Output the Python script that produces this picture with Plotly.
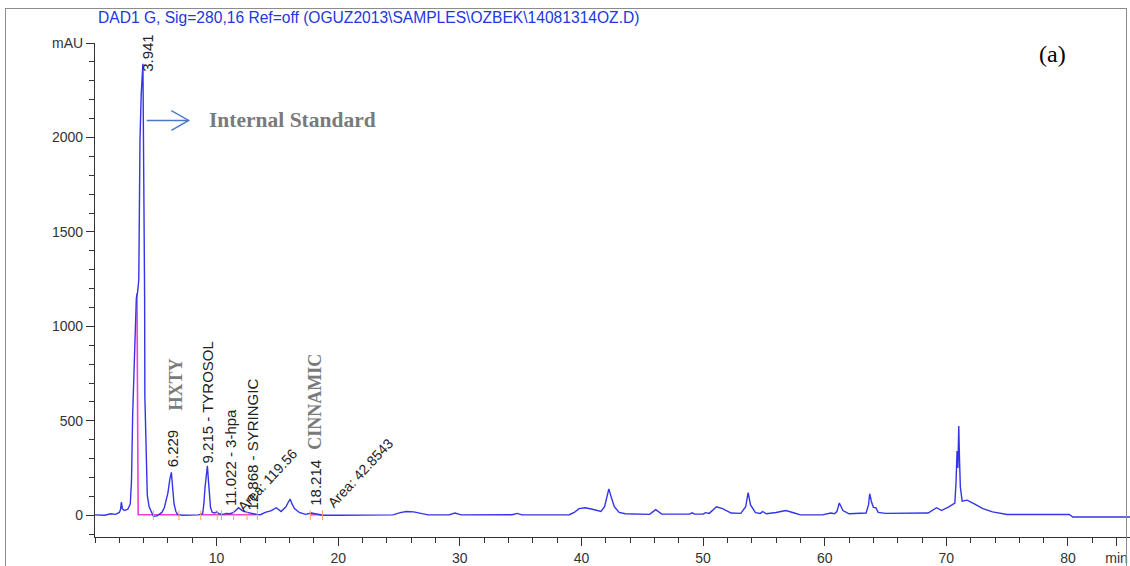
import plotly.graph_objects as go

# Chromatogram signal, DAD1 G 280 nm: retention time (min) and absorbance (mAU)
time_min = [
    0.0, 0.8, 1.3, 1.7, 2.0, 2.1, 2.17, 2.25, 2.4, 2.7, 2.9, 3.0, 3.1, 3.2, 3.3, 3.4,
    3.5, 3.6, 3.7, 3.8, 3.94, 4.0, 4.08, 4.1, 4.2, 4.3, 4.45, 4.6, 4.8, 5.1, 5.3,
    5.5, 5.7, 5.85, 6.0, 6.15, 6.28, 6.38, 6.5, 6.65, 6.8, 7.2, 7.8, 8.5, 8.85,
    8.95, 9.05, 9.15, 9.24, 9.32, 9.4, 9.5, 9.65, 9.85, 10.0, 10.2, 10.5, 10.8,
    11.1, 11.4, 11.8, 12.1, 12.5, 12.9, 13.3, 13.6, 14.0, 14.5, 14.9, 15.3, 15.7,
    15.9, 16.05, 16.2, 16.4, 16.8, 17.3, 17.8, 18.2, 18.7, 20.0, 24.5, 25.1, 25.6,
    26.2, 26.8, 27.4, 29.1, 29.6, 30.1, 34.3, 34.7, 35.1, 39.0, 39.4, 39.8, 40.3,
    40.9, 41.6, 41.9, 42.1, 42.25, 42.45, 42.7, 43.1, 43.6, 45.6, 46.1, 46.6,
    48.9, 49.1, 49.3, 50.0, 50.2, 50.5, 51.1, 51.6, 52.3, 53.1, 53.5, 53.7, 53.9,
    54.3, 54.7, 54.9, 55.2, 56.0, 56.8, 57.5, 58.0, 59.8, 60.5, 60.8, 61.0, 61.2,
    61.5, 62.0, 62.8, 63.4, 63.6, 63.7, 63.85, 64.0, 64.2, 64.4, 65.0, 68.5, 69.2,
    69.6, 70.2, 70.5, 70.7, 70.8, 70.88, 70.95, 71.02, 71.08, 71.15, 71.3, 71.7,
    72.3, 73.0, 73.8, 74.6, 75.0, 80.1, 80.4, 85.1,
]
absorbance_mau = [
    2, 0, 8, 5, 15, 30, 70, 35, 25, 32, 60, 180, 540, 720, 980, 1150,
    1180, 1245, 1990, 2230, 2390, 2000, 1150, 630, 300, 105, 45, 25, -5, -3, 5,
    15, 40, 75, 120, 190, 227, 150, 60, 20, 3, 0, 0, 2, 8,
    60, 150, 235, 262, 190, 110, 40, 15, 12, 18, 8, 5, 10,
    8, 15, 40, 25, 15, 8, 5, 3, 15, 25, 40, 20, 45,
    70, 85, 60, 35, 15, 5, 12, 8, 0, 0, 2, 14, 20,
    18, 10, 2, 2, 12, 2, 3, 10, 2, 3, 15, 35, 40,
    32, 20, 45, 110, 140, 95, 45, 15, 8, 5, 30, 6,
    6, 13, 6, 6, 14, 10, 45, 35, 12, 10, 45, 120, 55,
    14, 10, 20, 8, 15, 25, 12, 2, 2, 12, 8, 20, 65,
    25, 8, 10, 12, 55, 114, 70, 42, 40, 15, 10, 12, 40,
    25, 45, 60, 65, 180, 340, 250, 472, 300, 150, 75, 80,
    60, 35, 18, 10, 4, 4, -9, -9,
]

# Integration baselines drawn by the data system
baseline_segments = [
    ([3.45, 3.55, 6.9], [1175, 3, 3]),
    ([8.7, 13.3], [3, 3]),
    ([17.7, 18.7], [3, 3]),
]
# Peak start / end markers on the baseline
marker_times = [4.8, 6.9, 8.7, 10.05, 10.4, 11.4, 12.5, 13.35, 17.7, 18.7]
marker_levels = [0, 0, 0, 0, 0, 0, 0, 0, 0, 0]

# Peak labels (retention time, label text, apex height)
peak_times = [3.941, 6.229, 9.215, 11.022, 12.868, 18.214]
peak_texts = ["3.941", "6.229", "9.215 - TYROSOL", "11.022 - 3-hpa",
              "12.868 - SYRINGIC", "18.214"]
peak_label_x = [4.25, 6.38, 9.26, 11.2, 12.93, 18.13]
peak_label_base = [2335, 241, 262, 37, 16, 37]

# Compound names added beside the peaks
compound_names = ["HXTY", "CINNAMIC"]
compound_x = [6.63, 18.13]
compound_y = [690, 598]

# Area annotations
area_texts = ["Area: 119.56", "Area: 42.8543"]
area_x = [14.2, 21.8]
area_y = [185, 226]

x_ticks = [10, 20, 30, 40, 50, 60, 70, 80, 84]
x_tick_text = ["10", "20", "30", "40", "50", "60", "70", "80", "min"]
y_ticks = [0, 500, 1000, 1500, 2000, 2500]
y_tick_text = ["0", "500", "1000", "1500", "2000", "mAU"]

SANS = "Liberation Sans, Arial, sans-serif"
SERIF = "Liberation Serif, Times New Roman, serif"
TRACE_BLUE = "#3434e8"
PINK = "#f03cd8"

fig = go.Figure()

for seg_t, seg_y in baseline_segments:
    fig.add_trace(go.Scatter(x=seg_t, y=seg_y, mode="lines",
                             line=dict(color=PINK, width=1.6),
                             hoverinfo="skip", showlegend=False))

fig.add_trace(go.Scatter(x=time_min, y=absorbance_mau, mode="lines",
                         line=dict(color=TRACE_BLUE, width=1.4),
                         showlegend=False))

fig.add_trace(go.Scatter(x=marker_times, y=marker_levels, mode="markers",
                         marker=dict(symbol="line-ns-open", size=7,
                                     line=dict(color="#333333", width=1)),
                         hoverinfo="skip", showlegend=False))

annotations = []

# outer frame of the report page (an empty bordered box)
annotations.append(dict(x=-0.087, y=1.07, xref="paper", yref="paper",
                        text=" ", showarrow=False, xanchor="left",
                        yanchor="top", width=1120, height=620,
                        borderpad=0, bordercolor="#8c8c8c", borderwidth=1))

for t, txt, yb in zip(peak_label_x, peak_texts, peak_label_base):
    annotations.append(dict(x=t, y=yb, xref="x", yref="y", text=txt,
                            textangle=-90, showarrow=False,
                            xanchor="center", yanchor="bottom",
                            font=dict(family=SANS, size=15, color="#222222")))

for txt, t, yv in zip(compound_names, compound_x, compound_y):
    annotations.append(dict(x=t, y=yv, xref="x", yref="y",
                            text="<b>" + txt + "</b>", textangle=-90,
                            showarrow=False, xanchor="center", yanchor="middle",
                            font=dict(family=SERIF, size=18, color="#7a7a7a")))

for txt, t, yv in zip(area_texts, area_x, area_y):
    annotations.append(dict(x=t, y=yv, xref="x", yref="y", text=txt,
                            textangle=-47, showarrow=False,
                            xanchor="center", yanchor="middle",
                            font=dict(family=SANS, size=14, color="#222222")))

# Internal standard label with its pointer
annotations.append(dict(x=16.2, y=2090, xref="x", yref="y",
                        text="<b>Internal Standard</b>", showarrow=False,
                        xanchor="center", yanchor="middle",
                        font=dict(family=SERIF, size=21.5, color="#7a7a7a")))

annotations.append(dict(x=0.0, y=1.052, xref="paper", yref="paper",
                        text="DAD1 G, Sig=280,16 Ref=off (OGUZ2013\\SAMPLES\\OZBEK\\14081314OZ.D)",
                        showarrow=False, xanchor="left", yanchor="middle",
                        xshift=1,
                        font=dict(family=SANS, size=15.6, color="#2238dc")))

annotations.append(dict(x=78.7, y=2440, xref="x", yref="y", text="(a)",
                        showarrow=False, xanchor="center", yanchor="middle",
                        font=dict(family=SERIF, size=24, color="#000000")))

shapes = [
    # pointer shaft and open head
    dict(type="line", xref="x", yref="y", x0=4.25, y0=2090, x1=7.7, y1=2090,
         line=dict(color="#4a78c8", width=1.4)),
    dict(type="path", xref="x", yref="y",
         path="M 6.28 2142 L 7.7 2090 L 6.28 2037",
         line=dict(color="#4a78c8", width=1.4)),
]

fig.update_layout(
    width=1130, height=566, autosize=False,
    margin=dict(l=95, r=0, t=43, b=25),
    paper_bgcolor="white", plot_bgcolor="white",
    annotations=annotations, shapes=shapes,
    xaxis=dict(range=[0, 85.1], tickmode="array", tickvals=x_ticks,
               ticktext=x_tick_text, ticks="outside", ticklen=8,
               tickcolor="#333333", showline=True, linecolor="#333333",
               linewidth=1.2, showgrid=False, zeroline=False,
               tickfont=dict(family=SANS, size=14, color="#333333"),
               minor=dict(dtick=2, tick0=0, ticks="outside", ticklen=5,
                          tickcolor="#333333", showgrid=False)),
    yaxis=dict(range=[-115, 2500], tickmode="array", tickvals=y_ticks,
               ticktext=y_tick_text, ticks="outside", ticklen=8,
               tickcolor="#333333", showline=True, linecolor="#333333",
               linewidth=1.2, showgrid=False, zeroline=False,
               tickfont=dict(family=SANS, size=14, color="#333333"),
               minor=dict(dtick=100, tick0=0, ticks="outside", ticklen=5,
                          tickcolor="#333333", showgrid=False)),
)

fig.write_html("out.html")
